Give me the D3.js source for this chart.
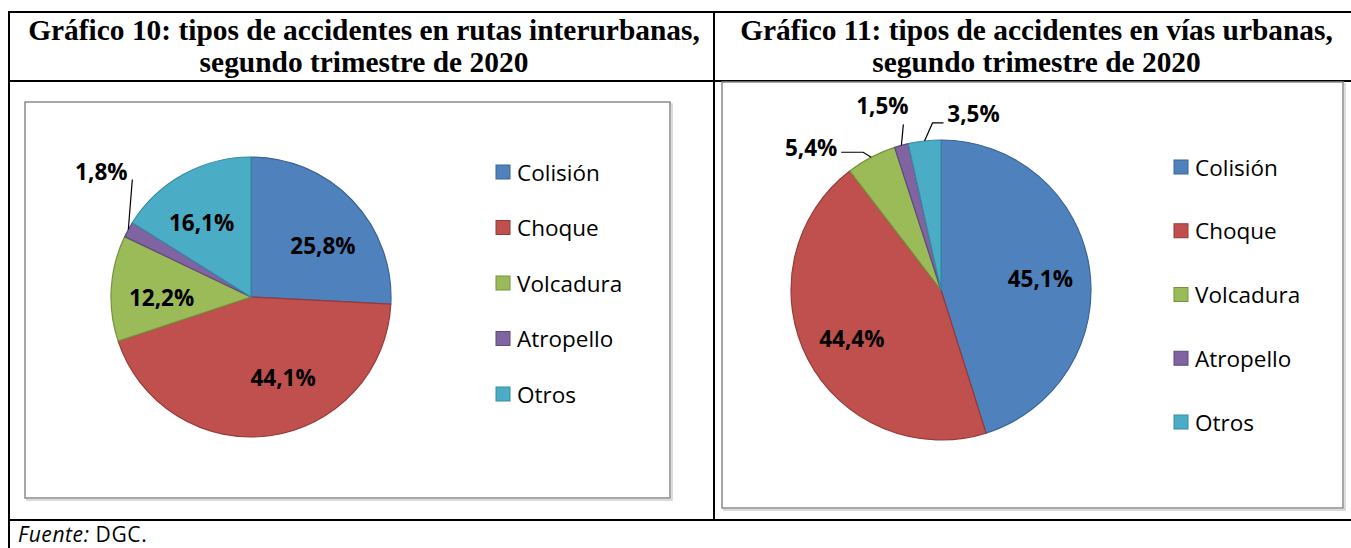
<!DOCTYPE html>
<html>
<head>
<meta charset="utf-8">
<script src="https://cdn.jsdelivr.net/npm/d3@7"></script>
<style>
  body { margin: 0; background: #fff; }
  text { font-family: "Open Sans", sans-serif; }
  .title { font-family: "Liberation Serif", "Times New Roman", serif; font-weight: bold; font-size: 29px; }
  .lbl { font-weight: bold; font-size: 22.5px; fill: #000; }
  .leg { font-size: 22.5px; fill: #000; }
</style>
</head>
<body>
<script>
// categories and values (percent)
var categories = ["Colisión", "Choque", "Volcadura", "Atropello", "Otros"];
var interurbanas = [25.8, 44.1, 12.2, 1.8, 16.1];
var urbanas = [45.1, 44.4, 5.4, 1.5, 3.5];
var titles10 = ["Gráfico 10: tipos de accidentes en rutas interurbanas,", "segundo trimestre de 2020"];
var titles11 = ["Gráfico 11: tipos de accidentes en vías urbanas,", "segundo trimestre de 2020"];

var fills = ["#4F81BD", "#C0504D", "#9BBB59", "#8064A2", "#4BACC6"];
var strokes = ["#3A6496", "#953A38", "#76923F", "#5F4A7B", "#378BA3"];

var w = 1351, h = 548;

var svg = d3.select("body").append("svg")
    .attr("width", w)
    .attr("height", h);

var color = d3.scaleOrdinal().domain(categories).range(fills);
var edge = d3.scaleOrdinal().domain(categories).range(strokes);

//number format with comma decimal
var fmt = function(v){ return d3.format(".1f")(v).replace(".", ",") + "%"; };

// table grid
var grid = svg.append("g").attr("class", "grid")
    .style("stroke", "#000").style("stroke-width", 2);
grid.append("line").attr("x1", 9).attr("x2", 9).attr("y1", 11).attr("y2", 560);
grid.append("line").attr("x1", 8).attr("x2", 1360).attr("y1", 12).attr("y2", 12);
grid.append("line").attr("x1", 8).attr("x2", 1360).attr("y1", 81).attr("y2", 81);
grid.append("line").attr("x1", 8).attr("x2", 1360).attr("y1", 520).attr("y2", 520);
grid.append("line").attr("x1", 714).attr("x2", 714).attr("y1", 11).attr("y2", 520);

//source note
var note = svg.append("text")
    .attr("x", 18)
    .attr("y", 542)
    .style("font-size", "21px")
    .style("letter-spacing", "0.6px");
note.append("tspan").style("font-style", "italic").text("Fuente:");
note.append("tspan").text(" DGC.");

function drawTitle(lines, cx, width){
    var t = svg.append("g");
    var l1 = t.append("text").attr("class", "title")
        .attr("text-anchor", "middle").attr("x", 0).attr("y", 40).text(lines[0]);
    t.append("text").attr("class", "title")
        .attr("text-anchor", "middle").attr("x", 0).attr("y", 72).text(lines[1]);
    //squeeze horizontally like the original
    var k = width / l1.node().getComputedTextLength();
    t.attr("transform", "translate(" + cx + ",0) scale(" + k + ",1)");
}

drawTitle(titles10, 364, 672);
drawTitle(titles11, 1036.5, 593);

function drawChart(cfg){
    var g = svg.append("g");

    //chart frame with soft shadow
    g.append("rect")
        .attr("x", cfg.frame[0] + 2).attr("y", cfg.frame[1] + 2)
        .attr("width", cfg.frame[2] - cfg.frame[0]).attr("height", cfg.frame[3] - cfg.frame[1])
        .style("fill", "none").style("stroke", "#d0d0d0").style("stroke-width", 1.5);
    g.append("rect")
        .attr("x", cfg.frame[0]).attr("y", cfg.frame[1])
        .attr("width", cfg.frame[2] - cfg.frame[0]).attr("height", cfg.frame[3] - cfg.frame[1])
        .style("fill", "#fff").style("stroke", "#8a8a8a").style("stroke-width", 1.5);

    var data = categories.map(function(c, i){ return { cat: c, value: cfg.values[i] }; });
    var pie = d3.pie().sort(null).value(function(d){ return d.value; });
    var arcs = pie(data);
    var arc = d3.arc().innerRadius(0).outerRadius(cfg.r);
    var labelArc = d3.arc().innerRadius(cfg.r * cfg.lr).outerRadius(cfg.r * cfg.lr);
    var rimArc = d3.arc().innerRadius(cfg.r).outerRadius(cfg.r);

    var p = g.append("g").attr("transform", "translate(" + cfg.cx + "," + cfg.cy + ")");

    p.selectAll(".slice")
        .data(arcs)
        .enter()
        .append("path")
        .attr("class", "slice")
        .attr("d", arc)
        .style("fill", function(d){ return color(d.data.cat); })
        .style("stroke", function(d){ return edge(d.data.cat); })
        .style("stroke-width", 1.2)
        .style("stroke-linejoin", "round");

    arcs.forEach(function(d){
        var out = cfg.outside[d.data.cat];
        if (out) {
            var e = rimArc.centroid(d);
            var pts = [e].concat(out.leader.map(function(o){ return [e[0] + o[0], e[1] + o[1]]; }));
            p.append("path")
                .attr("d", d3.line()(pts))
                .style("fill", "none").style("stroke", "#000").style("stroke-width", 1.2);
            p.append("text").attr("class", "lbl")
                .attr("text-anchor", "middle")
                .attr("dominant-baseline", "central")
                .attr("x", e[0] + out.label[0])
                .attr("y", e[1] + out.label[1])
                .text(fmt(d.data.value));
        } else {
            var c = labelArc.centroid(d);
            var n = cfg.nudge[d.data.cat] || [0, 0];
            p.append("text").attr("class", "lbl")
                .attr("text-anchor", "middle")
                .attr("dominant-baseline", "central")
                .attr("x", c[0] + n[0])
                .attr("y", c[1] + n[1])
                .text(fmt(d.data.value));
        }
    });

    //legend
    var ly = d3.scalePoint().domain(categories).range(cfg.legY);
    var leg = g.selectAll(".legrow")
        .data(categories)
        .enter()
        .append("g")
        .attr("class", "legrow")
        .attr("transform", function(d){ return "translate(" + cfg.legX + "," + ly(d) + ")"; });
    leg.append("rect")
        .attr("x", 0).attr("y", -7)
        .attr("width", 14).attr("height", 14)
        .style("fill", function(d){ return color(d); })
        .style("stroke", function(d){ return edge(d); })
        .style("stroke-width", 1);
    leg.append("text").attr("class", "leg")
        .attr("x", 21)
        .attr("dominant-baseline", "central")
        .attr("y", 0)
        .text(function(d){ return d; });
}

drawChart({
    values: interurbanas,
    frame: [25, 102, 670, 498],
    cx: 251, cy: 297, r: 140, lr: 0.64,
    nudge: { "Colisión": [7, 10], "Choque": [20, -8], "Volcadura": [0, 6], "Otros": [-6, 4] },
    outside: { "Atropello": { label: [-27, -58], leader: [[4, -50]] } },
    legX: 496, legY: [172, 394]
});

drawChart({
    values: urbanas,
    frame: [722, 82, 1343, 508],
    cx: 941, cy: 290, r: 150, lr: 0.67,
    nudge: { "Colisión": [0, 4], "Choque": [0, 2] },
    outside: {
        "Volcadura": { label: [-60, -10], leader: [[-8, -5], [-30, -5]] },
        "Atropello": { label: [-19, -40], leader: [[2, -21]] },
        "Otros": { label: [49, -27], leader: [[8, -18], [19, -18]] }
    },
    legX: 1174, legY: [167, 422]
});
</script>
</body>
</html>
